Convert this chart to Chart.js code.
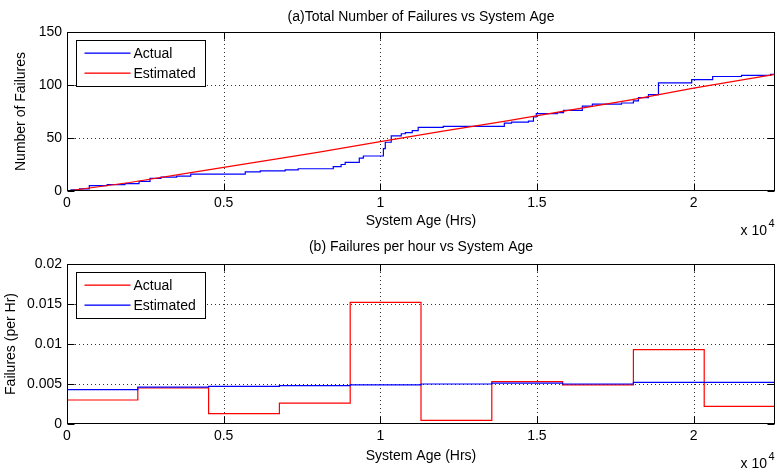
<!DOCTYPE html>
<html lang="en">
<head>
<meta charset="UTF-8">
<title>Failures vs System Age</title>
<script src="https://cdn.jsdelivr.net/npm/chart.js"></script>
<style>
  body { margin: 0; background: #fff; }
  .wrap { position: relative; width: 777px; height: 476px; }
  canvas { position: absolute; left: 0; }
  #chartA { top: 0; }
  #chartB { top: 240px; }
</style>
</head>
<body>
<div class="wrap">
  <canvas id="chartA" width="777" height="240" style="width:777px;height:240px"></canvas>
  <canvas id="chartB" width="777" height="236" style="width:777px;height:236px"></canvas>
</div>
<script>
// (a) cumulative failures: actual step points and estimated curve
const actualTime  = [0, 130, 400, 712, 1280, 1850, 2300, 2650, 3000, 3500, 3950, 5690, 6170, 6965, 7380, 8500, 8750, 8880, 9330, 9460, 10100, 10160, 10350, 10670, 10800, 11020, 11210, 12010, 13960, 14190, 14730, 14890, 14980, 15650, 15850, 16450, 16770, 17700, 18080, 18240, 18560, 18880, 19940, 20610, 21530, 22460, 22600];
const actualCount = [0, 1, 2, 5, 6, 7, 9, 12, 13, 14, 16, 18, 19, 20, 21, 23, 25, 27, 31, 33, 40, 46, 52, 54, 55, 57, 60, 61, 64, 65, 66, 70, 73, 74, 76, 80, 82, 83, 85, 88, 91, 102, 105, 108, 109, 110, 110];
const estTime  = [0, 2000, 4000, 6000, 8000, 10000, 12000, 14000, 16000, 18000, 20000, 22600];
const estCount = [0, 8, 17.5, 27, 36.5, 46.5, 56.5, 66, 76, 86, 97, 110];

// (b) failures per hour in equal intervals
const intervalEdges = [0, 2260, 4520, 6780, 9040, 11300, 13560, 15820, 18080, 20340, 22600];
const actualRate = [0.0030, 0.0045, 0.0013, 0.0026, 0.0152, 0.00045, 0.0053, 0.0049, 0.0093, 0.0022];
const estRate    = [0.0043, 0.0046, 0.0047, 0.0048, 0.0049, 0.0050, 0.0051, 0.0050, 0.0052, 0.0052];

// ticks
const xTicks = [0, 5000, 10000, 15000, 20000];
const xTickLabels = ['0', '0.5', '1', '1.5', '2'];
const yTicksA = [0, 50, 100, 150];
const yTickLabelsA = ['0', '50', '100', '150'];
const yTicksB = [0, 0.005, 0.01, 0.015, 0.02];
const yTickLabelsB = ['0', '0.005', '0.01', '0.015', '0.02'];

const FONT = "'Liberation Sans', Arial, Helvetica, sans-serif";
const BLUE = '#0000ff';
const RED = '#ff0000';

// per-canvas decorations
const decor = {
  chartA: {
    title: '(a)Total Number of Failures vs System Age', titleGap: 15,
    legend: [['Actual', BLUE], ['Estimated', RED]]
  },
  chartB: {
    title: '(b) Failures per hour vs System Age', titleGap: 17,
    legend: [['Actual', RED], ['Estimated', BLUE]]
  }
};

// matlab style box, dotted grid, inward ticks, legend, title, exponent
const matlabAxes = {
  id: 'matlabAxes',
  beforeDatasetsDraw(chart) {
    const { ctx, chartArea: a, scales: { x, y } } = chart;
    ctx.save();
    ctx.strokeStyle = 'rgba(0,0,0,0.8)';
    ctx.lineWidth = 1;
    ctx.setLineDash([1, 3]);
    ctx.beginPath();
    x.ticks.forEach(t => {
      const px = Math.round(x.getPixelForValue(t.value)) + 0.5;
      if (px <= a.left + 2 || px >= a.right - 2) return;
      ctx.moveTo(px, a.top); ctx.lineTo(px, a.bottom);
    });
    y.ticks.forEach(t => {
      const py = Math.round(y.getPixelForValue(t.value)) + 0.5;
      if (py <= a.top + 2 || py >= a.bottom - 2) return;
      ctx.moveTo(a.left, py); ctx.lineTo(a.right, py);
    });
    ctx.stroke();
    ctx.restore();
  },
  afterDraw(chart) {
    const d = decor[chart.canvas.id];
    const { ctx, chartArea: a, scales: { x, y } } = chart;
    const L = Math.round(a.left) + 0.5, R = Math.round(a.right) - 0.5;
    const T = Math.round(a.top) + 0.5, B = Math.round(a.bottom) - 0.5;
    ctx.save();
    ctx.setLineDash([]);
    ctx.strokeStyle = '#000';
    ctx.lineWidth = 1;
    ctx.strokeRect(L, T, R - L, B - T);
    const tl = 7;
    ctx.beginPath();
    x.ticks.forEach(t => {
      const px = Math.round(x.getPixelForValue(t.value)) + 0.5;
      ctx.moveTo(px, B); ctx.lineTo(px, B - tl);
      ctx.moveTo(px, T); ctx.lineTo(px, T + tl);
    });
    y.ticks.forEach(t => {
      const py = Math.round(y.getPixelForValue(t.value)) + 0.5;
      ctx.moveTo(L, py); ctx.lineTo(L + tl, py);
      ctx.moveTo(R, py); ctx.lineTo(R - tl, py);
    });
    ctx.stroke();

    // legend box
    const lx = L + 9, ly = T + 8;
    ctx.fillStyle = '#fff';
    ctx.fillRect(lx, ly, 129, 46);
    ctx.strokeRect(lx, ly, 129, 46);
    ctx.font = '14px ' + FONT;
    ctx.textBaseline = 'middle';
    ctx.textAlign = 'left';
    d.legend.forEach((item, i) => {
      const yy = Math.round(T + 20 + i * 20.5);
      ctx.fillStyle = item[1];
      ctx.fillRect(lx + 8, yy - 0.5, 46, 1.3);
      ctx.fillStyle = '#000';
      ctx.fillText(item[0], lx + 57, yy + 1);
    });

    // title
    ctx.fillStyle = '#000';
    ctx.textAlign = 'center';
    ctx.font = '14px ' + FONT;
    ctx.fillText(d.title, (a.left + a.right) / 2, a.top - d.titleGap);

    // x 10^4
    ctx.textAlign = 'left';
    ctx.font = '14px ' + FONT;
    ctx.fillText('x 10', R - 34, B + 41);
    ctx.font = '11px ' + FONT;
    ctx.fillText('4', R - 6, B + 33);
    ctx.restore();
  }
};

function fixedTicks(values) {
  return scale => { scale.ticks = values.map(v => ({ value: v })); };
}

function makeChart(id, cfg) {
  return new Chart(document.getElementById(id), {
    type: 'line',
    data: { datasets: cfg.datasets },
    plugins: [matlabAxes],
    options: {
      responsive: false,
      animation: false,
      events: [],
      devicePixelRatio: 1,
      layout: { padding: { top: cfg.padTop, right: 2, left: 0, bottom: 0 } },
      plugins: {
        legend: { display: false },
        tooltip: { enabled: false }
      },
      scales: {
        x: {
          type: 'linear',
          min: 0,
          max: 22600,
          afterBuildTicks: fixedTicks(xTicks),
          afterFit: s => { s.height = cfg.xHeight; },
          grid: { display: false, drawTicks: false },
          border: { display: false },
          ticks: {
            autoSkip: false, maxRotation: 0, padding: 4,
            color: '#000', font: { family: FONT, size: 14 },
            callback: (v, i) => xTickLabels[i]
          },
          title: {
            display: true, text: 'System Age (Hrs)', color: '#000',
            font: { family: FONT, size: 14 }, padding: { top: 0, bottom: cfg.xTitlePad }
          }
        },
        y: {
          min: 0,
          max: cfg.yMax,
          afterBuildTicks: fixedTicks(cfg.yTicks),
          afterFit: s => { s.width = 67; },
          grid: { display: false, drawTicks: false },
          border: { display: false },
          ticks: {
            autoSkip: false, padding: 5,
            color: '#000', font: { family: FONT, size: 14 },
            callback: (v, i) => cfg.yLabels[i]
          },
          title: {
            display: true, text: cfg.yTitle, color: '#000',
            font: { family: FONT, size: 14 }, padding: { top: cfg.yTitlePad, bottom: 0 }
          }
        }
      }
    }
  });
}

const line = (color, pts, stepped) => ({
  data: pts, borderColor: color, backgroundColor: color, borderWidth: 1.2,
  pointRadius: 0, tension: 0, stepped: stepped, fill: false
});

// (a)
makeChart('chartA', {
  padTop: 32, xHeight: 49, xTitlePad: 10, yTitlePad: 13,
  yMax: 150, yTicks: yTicksA, yLabels: yTickLabelsA,
  yTitle: 'Number of Failures',
  datasets: [
    line(RED, estTime.map((t, i) => ({ x: t, y: estCount[i] })), false),
    line(BLUE, actualTime.map((t, i) => ({ x: t, y: actualCount[i] })), true)
  ]
});

// (b)
const stepPts = rates => intervalEdges.map((t, i) => ({ x: t, y: rates[Math.min(i, rates.length - 1)] }));
makeChart('chartB', {
  padTop: 24, xHeight: 52, xTitlePad: 11, yTitlePad: 3,
  yMax: 0.02, yTicks: yTicksB, yLabels: yTickLabelsB,
  yTitle: 'Failures (per Hr)',
  datasets: [
    line(BLUE, stepPts(estRate), true),
    line(RED, stepPts(actualRate), true)
  ]
});
</script>
</body>
</html>
